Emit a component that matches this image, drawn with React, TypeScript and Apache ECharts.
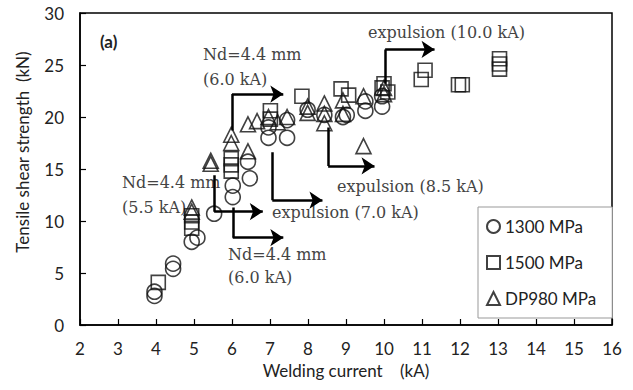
import React, { useEffect, useRef } from "react";
import * as echarts from "echarts";

// Welding current (kA), tensile shear strength (kN)
const mpa1300: [number, number][] = [
  [3.96, 2.8], [3.96, 3.2], [4.45, 5.4], [4.45, 5.9], [4.94, 8.0], [5.09, 8.4],
  [5.53, 10.7], [6.02, 12.3], [6.02, 13.4], [6.47, 14.1], [6.42, 15.7],
  [6.96, 18.0], [7.45, 18.0], [6.96, 19.0], [7.45, 19.7], [7.99, 20.7],
  [8.43, 20.2], [8.92, 20.0], [9.02, 20.2], [9.51, 20.6], [9.51, 21.5],
  [9.95, 21.0], [9.95, 22.0],
];
const mpa1500: [number, number][] = [
  [4.06, 4.1], [4.94, 9.3], [4.94, 9.9], [4.94, 10.5], [5.98, 14.8], [5.98, 15.4],
  [5.98, 16.0], [7.01, 19.8], [7.01, 20.6], [7.84, 22.0], [8.87, 22.7], [9.07, 22.1],
  [9.95, 22.8], [10.1, 22.4], [10.0, 23.2], [10.98, 23.6], [11.08, 24.5],
  [11.96, 23.1], [12.06, 23.1], [13.04, 24.6], [13.04, 25.1], [13.04, 25.6],
];
const dp980: [number, number][] = [
  [4.94, 10.9], [4.94, 11.3], [5.44, 15.5], [5.44, 15.8], [5.98, 17.5], [5.98, 18.3],
  [6.42, 16.7], [6.42, 19.3], [6.66, 19.6], [6.96, 20.0], [7.2, 19.5], [7.45, 20.0],
  [7.99, 20.4], [7.99, 21.0], [8.43, 21.3], [8.43, 20.3], [8.43, 19.4], [8.92, 21.6],
  [8.92, 20.3], [9.46, 22.0], [9.46, 17.2], [10.0, 22.8], [10.0, 22.2],
];
const seriesNames = ["1300 MPa", "1500 MPa", "DP980 MPa"];
const xTicks = [2, 16, 1];
const yTicks = [0, 30, 5];

// annotation arrows: vertical leader [x, yFrom, yTo], then horizontal arrow to xEnd
const leaders: [number, number, number, number][] = [
  [6.0, 18.7, 22.2, 7.35],
  [10.03, 23.2, 26.5, 11.33],
  [8.53, 19.0, 15.3, 9.75],
  [7.06, 16.6, 12.0, 8.38],
  [5.53, 14.4, 10.9, 6.81],
  [6.02, 11.3, 8.4, 7.35],
];

const App: React.FC = () => {
  const ref = useRef<HTMLDivElement>(null);
  useEffect(() => {
    document.body.style.margin = "0";
    if (!ref.current) return;
    const chart = echarts.init(ref.current, undefined, { renderer: "svg" });
    const hollow = { color: "rgba(255,255,255,0)", borderColor: "#111", borderWidth: 1.6 };
    const annoFont = { fontFamily: "DejaVu Serif", fontSize: 16, fill: "#444" };
    const t = (text: string, x: number, y: number) => ({
      type: "text", left: x, top: y, style: { text, ...annoFont },
    });
    const sans = "Lato";
    chart.setOption({
      animation: false,
      backgroundColor: "#fff",
      grid: { left: 80, right: 21, top: 13, bottom: 65, show: true, borderColor: "#000", borderWidth: 1.5 },
      xAxis: {
        type: "value", min: xTicks[0], max: xTicks[1], interval: xTicks[2],
        name: "Welding current    (kA)", nameLocation: "middle", nameGap: 36,
        nameTextStyle: { fontFamily: sans, fontSize: 17, color: "#222" },
        axisLine: { lineStyle: { color: "#000", width: 1.5 } },
        axisTick: { inside: true, length: 6, lineStyle: { color: "#000", width: 1.2 } },
        axisLabel: { fontFamily: sans, fontSize: 17, color: "#222", margin: 15 },
        splitLine: { show: false },
      },
      yAxis: {
        type: "value", min: yTicks[0], max: yTicks[1], interval: yTicks[2],
        axisLine: { lineStyle: { color: "#000", width: 1.5 } },
        axisTick: { inside: true, length: 6, lineStyle: { color: "#000", width: 1.2 } },
        axisLabel: { fontFamily: sans, fontSize: 17, color: "#222", margin: 16 },
        splitLine: { show: false },
      },
      legend: {
        orient: "vertical", left: 478, top: 207,
        padding: [11, 16, 11, 8], itemGap: 19, itemWidth: 13, itemHeight: 13,
        borderColor: "#999", borderWidth: 1, backgroundColor: "#fff",
        textStyle: { fontFamily: sans, fontSize: 17, color: "#222" },
        data: [
          { name: seriesNames[0], icon: "circle" },
          { name: seriesNames[1], icon: "rect" },
          { name: seriesNames[2], icon: "triangle" },
        ],
      },
      series: [
        { name: seriesNames[0], type: "scatter", symbol: "circle", symbolSize: 15, data: mpa1300, itemStyle: hollow, z: 3 },
        { name: seriesNames[1], type: "scatter", symbol: "rect", symbolSize: 14, data: mpa1500, itemStyle: hollow, z: 3 },
        { name: seriesNames[2], type: "scatter", symbol: "triangle", symbolSize: 15, data: dp980, itemStyle: hollow, z: 3 },
        {
          type: "lines", coordinateSystem: "cartesian2d", z: 4,
          symbol: ["none", "none"],
          lineStyle: { color: "#000", width: 2.5, opacity: 1 },
          data: leaders.map((l) => ({ coords: [[l[0], l[1]], [l[0], l[2]]] })),
        },
        {
          type: "lines", coordinateSystem: "cartesian2d", z: 4,
          symbol: ["none", "arrow"], symbolSize: 13,
          lineStyle: { color: "#000", width: 2.5, opacity: 1 },
          data: leaders.map((l) => ({ coords: [[l[0], l[2]], [l[3], l[2]]] })),
        },
      ],
      graphic: [
        {
          type: "text", x: 22, y: 152, rotation: Math.PI / 2,
          style: { text: "Tensile shear strength  (kN)", fontFamily: sans, fontSize: 17, fill: "#222", align: "center", verticalAlign: "middle" },
        },
        { type: "text", left: 100, top: 33, style: { text: "(a)", fontFamily: sans, fontSize: 17, fontWeight: "bold", fill: "#222" } },
        t("Nd=4.4 mm", 203, 46),
        t("(6.0 kA)", 203, 71),
        t("expulsion (10.0 kA)", 368, 24),
        t("expulsion (8.5 kA)", 337, 178),
        t("expulsion (7.0 kA)", 272, 204),
        t("Nd=4.4 mm", 122, 174),
        t("(5.5 kA)", 122, 199),
        t("Nd=4.4 mm", 228, 246),
        t("(6.0 kA)", 228, 269),
      ],
    });
    return () => chart.dispose();
  }, []);
  return <div ref={ref} style={{ width: 633, height: 390 }} />;
};

export default App;
